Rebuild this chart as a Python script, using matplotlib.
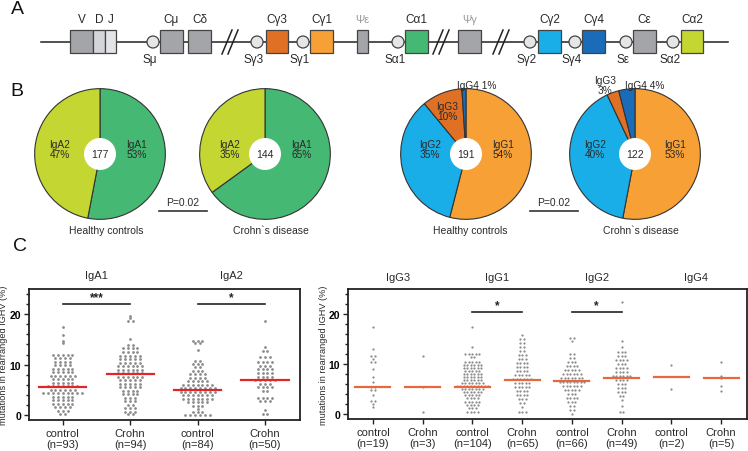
import numpy as np
import matplotlib
matplotlib.use("Agg")
import matplotlib.pyplot as plt
from matplotlib.patches import Rectangle, Circle

plt.rcParams["font.family"] = ["Liberation Sans", "DejaVu Sans"]
TXT = "#2a2a2a"

# ── Panel A: constant region locus ───────────────────────
gene_labels = ["V", "D", "J", "Cμ", "Cδ", "Cγ3", "Cγ1", "Ψε", "Cα1", "Ψγ", "Cγ2", "Cγ4", "Cε", "Cα2"]
gene_x0 = [70, 93, 105, 160, 188, 266, 310, 357, 405, 458, 538, 582, 633, 681]
gene_x1 = [93, 105, 116, 183, 211, 288, 333, 368, 428, 481, 561, 605, 656, 703]
gene_cols = ["#a3a5a9", "#d3d5d8", "#e3e4e6", "#a3a5a9", "#a3a5a9", "#e07024", "#f7a035",
             "#a3a5a9", "#45b873", "#a3a5a9", "#1aaee8", "#1a6cb8", "#a3a5a9", "#c3d631"]
switch_labels = ["Sμ", "Sγ3", "Sγ1", "Sα1", "Sγ2", "Sγ4", "Sε", "Sα2"]
switch_x = [153, 257, 303, 398, 530, 575, 626, 673]
break_x = [230, 441, 501]

# ── Panel B: subclass shares (%) ─────────────────────────
iga_names = ["IgA1", "IgA2"]
iga_hc = [53, 47]
iga_cd = [65, 35]
iga_tot = [177, 144]
igg_names = ["IgG1", "IgG2", "IgG3", "IgG4"]
igg_hc = [54, 35, 10, 1]
igg_cd = [53, 40, 3, 4]
igg_tot = [191, 122]
iga_cols = ["#45b873", "#c3d631"]
igg_cols = ["#f7a035", "#1aaee8", "#e07024", "#1a6cb8"]

# ── Panel C: mutation frequencies (row value, dots in row) ─
left_titles = ["IgA1", "IgA2"]
left_groups = ["control", "Crohn", "control", "Crohn"]
left_n = [93, 94, 84, 50]
left_medians = [5.6, 8.2, 5.0, 6.9]

iga1_ctrl_y = [17.4, 15.8, 14.6, 14.2, 12.0, 11.3, 10.6, 9.9, 9.2, 8.5, 7.8, 7.1, 6.4, 5.7, 5.0, 4.3, 3.6, 2.9, 2.2, 1.5, 0.8, 0.2]
iga1_ctrl_k = [1, 1, 1, 1, 5, 4, 4, 4, 5, 5, 6, 5, 5, 7, 6, 9, 5, 5, 5, 4, 3, 2]
iga1_cd_y = [19.6, 19.2, 18.6, 15.0, 13.8, 13.2, 12.5, 11.8, 11.1, 10.4, 9.7, 9.0, 8.3, 7.6, 6.9, 6.2, 5.5, 4.8, 4.1, 3.4, 2.7, 2.0, 1.3, 0.6, 0.1]
iga1_cd_k = [1, 1, 2, 1, 2, 4, 4, 5, 5, 5, 6, 6, 6, 6, 5, 5, 5, 4, 4, 3, 3, 2, 3, 3, 2]
iga2_ctrl_y = [14.6, 14.2, 12.8, 10.8, 10.2, 9.5, 8.8, 8.1, 7.4, 6.7, 6.0, 5.3, 4.6, 3.9, 3.2, 2.5, 1.8, 1.1, 0.5, 0.0]
iga2_ctrl_k = [3, 2, 1, 2, 3, 2, 3, 4, 4, 5, 7, 8, 8, 7, 7, 5, 3, 1, 3, 6]
iga2_cd_y = [18.7, 13.5, 12.7, 11.5, 10.5, 9.8, 9.1, 8.4, 7.6, 6.9, 6.2, 5.5, 4.8, 3.4, 2.7, 1.0, 0.2]
iga2_cd_k = [1, 1, 2, 3, 4, 3, 4, 4, 4, 5, 3, 4, 2, 4, 3, 1, 2]

right_titles = ["IgG3", "IgG1", "IgG2", "IgG4"]
right_groups = ["control", "Crohn"] * 4
right_n = [19, 3, 104, 65, 66, 49, 2, 5]
right_medians = [5.5, 5.5, 5.5, 6.8, 6.6, 7.3, 7.5, 7.2]

igg3_ctrl_y = [17.5, 13.0, 11.6, 11.0, 10.4, 9.0, 7.5, 6.5, 5.5, 4.8, 3.8, 2.6, 2.0, 1.4]
igg3_ctrl_k = [1, 1, 2, 1, 2, 1, 1, 1, 2, 2, 1, 2, 1, 1]
igg3_cd_y = [11.6, 5.5, 0.4]
igg3_cd_k = [1, 1, 1]
igg1_ctrl_y = [17.4, 13.4, 12.0, 11.4, 10.4, 9.8, 9.2, 8.6, 8.0, 7.4, 6.8, 6.2, 5.6, 5.0, 4.4, 3.8, 3.2, 2.4, 1.8, 1.2, 0.5]
igg1_ctrl_k = [1, 1, 5, 2, 5, 6, 6, 5, 6, 6, 6, 7, 10, 7, 6, 5, 4, 5, 4, 3, 4]
igg1_cd_y = [15.8, 15.0, 14.2, 13.4, 12.6, 11.8, 11.0, 10.2, 9.4, 8.6, 7.8, 7.0, 6.2, 5.4, 4.6, 3.8, 3.0, 2.2, 1.4, 0.4]
igg1_cd_k = [1, 2, 2, 2, 2, 3, 3, 4, 4, 4, 5, 6, 5, 5, 4, 4, 3, 2, 1, 3]
igg2_ctrl_y = [15.3, 14.7, 12.0, 11.2, 10.4, 9.6, 8.8, 8.0, 7.2, 6.4, 5.6, 4.8, 4.0, 3.2, 2.4, 1.6, 0.8, 0.1]
igg2_ctrl_k = [2, 1, 2, 2, 3, 4, 5, 6, 7, 8, 6, 5, 3, 4, 3, 2, 2, 1]
igg2_cd_y = [22.4, 14.6, 13.4, 12.4, 11.6, 10.8, 10.0, 9.2, 8.4, 7.6, 6.8, 6.0, 5.2, 4.4, 3.6, 2.8, 1.6, 0.4]
igg2_cd_k = [1, 1, 1, 3, 3, 4, 3, 4, 4, 6, 4, 3, 3, 3, 2, 1, 1, 2]
igg4_ctrl_y = [9.8, 5.0]
igg4_ctrl_k = [1, 1]
igg4_cd_y = [10.4, 7.6, 7.2, 5.6, 4.7]
igg4_cd_k = [1, 1, 1, 1, 1]

left_rows = [(iga1_ctrl_y, iga1_ctrl_k), (iga1_cd_y, iga1_cd_k),
             (iga2_ctrl_y, iga2_ctrl_k), (iga2_cd_y, iga2_cd_k)]
right_rows = [(igg3_ctrl_y, igg3_ctrl_k), (igg3_cd_y, igg3_cd_k),
              (igg1_ctrl_y, igg1_ctrl_k), (igg1_cd_y, igg1_cd_k),
              (igg2_ctrl_y, igg2_ctrl_k), (igg2_cd_y, igg2_cd_k),
              (igg4_ctrl_y, igg4_ctrl_k), (igg4_cd_y, igg4_cd_k)]

# ── Figure ────────────────────────────────────────────────
W, H = 748, 452
fig = plt.figure(figsize=(W / 100, H / 100), dpi=100)


def px_axes(left, top, right, bottom):
    return fig.add_axes([left / W, 1 - bottom / H, (right - left) / W, (bottom - top) / H])


ov = fig.add_axes([0, 0, 1, 1])
ov.set_xlim(0, W)
ov.set_ylim(H, 0)
ov.axis("off")
ov.set_zorder(5)

# panel letters
for lab, x, y in [("A", 17, 9), ("B", 17, 92), ("C", 20, 247)]:
    ov.text(x, y, lab, fontsize=14, ha="center", va="center", color="#111")

# locus
LINE_Y = 43
ov.plot([41, 728], [LINE_Y, LINE_Y], color="#222", lw=1.1, zorder=1)
for c in break_x:
    for d in (-3, 3):
        ov.plot([c + d - 5, c + d + 5], [55, 31], color="#222", lw=1.1, zorder=2)
for lab, x0, x1, col in zip(gene_labels, gene_x0, gene_x1, gene_cols):
    ov.add_patch(Rectangle((x0, 31), x1 - x0, 23, facecolor=col, edgecolor="#444", lw=0.9, zorder=3))
    grey = lab.startswith("Ψ")
    ov.text((x0 + x1) / 2, 20, lab, fontsize=8.5 if not grey else 8,
            ha="center", va="center", color="#9a9a9a" if grey else TXT)
for lab, x in zip(switch_labels, switch_x):
    ov.add_patch(Circle((x, LINE_Y), 6, facecolor="#e6e6e6", edgecolor="#444", lw=0.9, zorder=3))
    ov.text(x - 3, 60, lab, fontsize=8.5, ha="center", va="center", color=TXT)

# pies
R = 66


def draw_pie(cx, cy, shares, cols, total):
    ax = px_axes(cx - R, cy - R, cx + R, cy + R)
    ax.pie(shares, colors=cols, startangle=90, counterclock=False, radius=1,
           wedgeprops=dict(edgecolor="#333", linewidth=0.8))
    ax.add_patch(Circle((0, 0), 0.245, facecolor="white", edgecolor="none", zorder=5))
    ax.text(0, 0, str(total), ha="center", va="center", fontsize=7.5, color=TXT, zorder=6)
    ax.set_xlim(-1.01, 1.01)
    ax.set_ylim(-1.01, 1.01)
    ax.axis("off")


draw_pie(100, 155, iga_hc, iga_cols, iga_tot[0])
draw_pie(265, 155, iga_cd, iga_cols, iga_tot[1])
draw_pie(466, 155, igg_hc, igg_cols, igg_tot[0])
draw_pie(635, 155, igg_cd, igg_cols, igg_tot[1])

pie_fs = 7.3
for x, y, name, v in [(60, 150, iga_names[1], iga_hc[1]), (137, 150, iga_names[0], iga_hc[0]),
                      (230, 150, iga_names[1], iga_cd[1]), (302, 150, iga_names[0], iga_cd[0]),
                      (430, 150, igg_names[1], igg_hc[1]), (503, 150, igg_names[0], igg_hc[0]),
                      (447, 112, igg_names[2], igg_hc[2]),
                      (595, 150, igg_names[1], igg_cd[1]), (675, 150, igg_names[0], igg_cd[0]),
                      (605, 86, igg_names[2], igg_cd[2])]:
    ov.text(x, y, f"{name}\n{v}%", ha="center", va="center", fontsize=pie_fs,
            color=TXT, linespacing=1.05)
ov.text(477, 86, f"{igg_names[3]} {igg_hc[3]}%", ha="center", va="center", fontsize=pie_fs, color=TXT)
ov.text(645, 86, f"{igg_names[3]} {igg_cd[3]}%", ha="center", va="center", fontsize=pie_fs, color=TXT)

for x0, x1 in [(159, 207), (530, 578)]:
    ov.text((x0 + x1) / 2, 203, "P=0.02", ha="center", va="center", fontsize=7.5, color=TXT)
    ov.plot([x0, x1], [212, 212], color="#333", lw=1.2)
for x in (106, 470):
    ov.text(x, 231, "Healthy controls", ha="center", va="center", fontsize=7.5, color=TXT)
for x in (271, 641):
    ov.text(x, 231, "Crohn`s disease", ha="center", va="center", fontsize=7.5, color=TXT)


# ── Panel C: dot plots ───────────────────────────────────
def dot_panel(ax, rows, groups, ns, medians, titles, med_col, dot_s, dx, sig, sig_y, title_y, xmax):
    for i, (ys, ks) in enumerate(rows):
        xs, yv = [], []
        for v, k in zip(ys, ks):
            xs.extend(i + (np.arange(k) - (k - 1) / 2) * dx)
            yv.extend([v] * k)
        ax.scatter(xs, yv, s=dot_s, color="#8c8c8c", linewidths=0, zorder=2)
        ax.plot([i - 0.35, i + 0.35], [medians[i], medians[i]], color=med_col, lw=1.6, zorder=3)
    for j, t in enumerate(titles):
        ax.text(2 * j + 0.5, title_y, t, ha="center", va="center", fontsize=8, color=TXT, clip_on=False)
    for a, b, stars in sig:
        ax.plot([a, b], [sig_y, sig_y], color="#222", lw=1.2)
        ax.text((a + b) / 2, sig_y + 0.2, stars, ha="center", va="bottom", fontsize=8.5,
                fontweight="bold", color="#222")
    ax.set_xlim(-0.5, xmax)
    ax.set_ylim(-1, 25)
    ax.set_xticks(range(len(groups)))
    ax.set_xticklabels([f"{g}\n(n={n})" for g, n in zip(groups, ns)], fontsize=8, color=TXT)
    ax.set_yticks([0, 10, 20])
    ax.set_yticks(np.arange(0, 25, 2), minor=True)
    for lab in ax.get_yticklabels():
        lab.set_fontweight("bold")
        lab.set_fontsize(7.5)
    ax.tick_params(axis="both", which="both", direction="out", length=3.5, width=1, color="#222", pad=2)
    ax.tick_params(axis="y", which="minor", length=2.5)
    for sp in ax.spines.values():
        sp.set_linewidth(1.3)
        sp.set_color("#222")
    ax.set_ylabel("mutations in rearranged IGHV (%)", fontsize=6.6, color=TXT)


axL = px_axes(29, 290, 300, 421)
dot_panel(axL, left_rows, left_groups, left_n, left_medians, left_titles, "#e0262a", 4.0, 0.072,
          [(0, 1, "***"), (2, 3, "*")], 22.0, 27.8, 3.52)
axL.yaxis.set_label_coords(-0.078, 0.5)

axR = px_axes(348, 290, 747, 420)
dot_panel(axR, right_rows, right_groups, right_n, right_medians, right_titles, "#e8673f", 2.6, 0.07,
          [(2, 3, "*"), (4, 5, "*")], 20.4, 27.4, 7.52)
axR.yaxis.set_label_coords(-0.05, 0.5)

fig.savefig("out.png", dpi=100)
